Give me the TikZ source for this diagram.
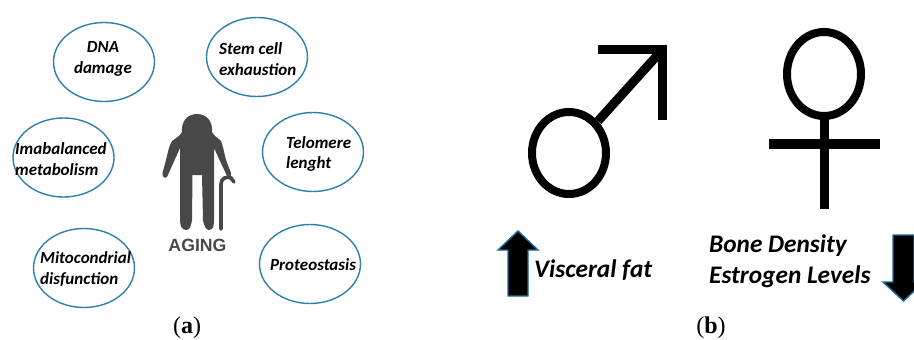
\documentclass[tikz,border=0pt]{standalone}
\usepackage{fontspec}
\setmainfont{Carlito}
\newfontfamily\agingfont{Liberation Sans}
\newfontfamily\capfont{Liberation Serif}
\usetikzlibrary{shapes.geometric}
\definecolor{ringblue}{HTML}{2F7FAB}
\definecolor{arrowblue}{HTML}{1F6A96}
\definecolor{persongrey}{HTML}{484848}
\tikzset{
  ring/.style={draw=ringblue,line width=1.4pt,ellipse,minimum width=101pt,minimum height=79pt,inner sep=0pt,outer sep=0pt},
  ringtext/.style={anchor=west,align=left,inner sep=0pt,font=\fontsize{17}{20.5}\selectfont\bfseries\itshape},
  bigtext/.style={anchor=west,align=left,inner sep=0pt,font=\fontsize{25.3}{31}\selectfont\bfseries\itshape},
  capt/.style={inner sep=0pt,font=\fontsize{24}{26}\selectfont\capfont},
  glyph/.style={draw=black,line width=9pt,line cap=butt},
  bigarrow/.style={fill=black,draw=arrowblue,line width=1.4pt,line join=miter}
}
\begin{document}
\begin{tikzpicture}[x=1pt,y=-1pt]
\useasboundingbox (0,0) rectangle (914,340);
\clip (0,0) rectangle (914,340);
% rings
\node[ring] (dna) at (104,62) {};
\node[ring] (stem) at (257,57) {};
\node[ring] (imb) at (63.5,157.5) {};
\node[ring] (tel) at (313,152) {};
\node[ring] (mito) at (84,268) {};
\node[ring] (prot) at (310,264) {};
\node[ringtext,align=center,anchor=center] (dnat) at (103,59) {DNA\\damage};
\node[ringtext] (stemt) at (219,59) {Stem cell\\exhaustion};
\node[ringtext] (imbt) at (15,159) {Imabalanced\\metabolism};
\node[ringtext] (telt) at (286,154) {Telomere\\lenght};
\node[ringtext] (mitot) at (40,269) {Mitocondrial\\disfunction};
\node[ringtext] (prott) at (270,265) {Proteostasis};
% person
\fill[persongrey] (197,114) .. controls (187,114) and (181,122) .. (182,132)
  .. controls (180,136) and (176,138) .. (172,141)
  .. controls (169,146) and (168,152) .. (166,160)
  -- (162.5,173) .. controls (162,177) and (165,179) .. (167,177)
  -- (180,148) -- (180,220)
  .. controls (180,226) and (182,230) .. (186,230)
  .. controls (190,230) and (191,226) .. (192,220)
  -- (192.5,175) -- (202,175) -- (203,220)
  .. controls (204,226) and (206,230) .. (209,230)
  .. controls (213,230) and (214,226) .. (214,220)
  -- (214,148) -- (227,176)
  .. controls (229,179) and (232,176) .. (231,173)
  -- (226,160) .. controls (224,152) and (223,146) .. (221,141)
  .. controls (218,138) and (214,136) .. (212,132)
  .. controls (213,122) and (207,114) .. (197,114) -- cycle;
\draw[persongrey,line width=3.6pt,line cap=round] (221,229) -- (221,184)
  .. controls (221,178) and (227,176) .. (231,178) -- (234,182);
\node[inner sep=0pt,font=\fontsize{17.7}{20}\selectfont\agingfont\bfseries,text=persongrey] (aging) at (197.5,245) {AGING};
\node[capt] (capa) at (187,328) {(\textbf{a})};
\node[capt] (capb) at (711,328) {(\textbf{b})};
% male symbol
\node[draw=black,line width=8pt,ellipse,minimum width=74pt,minimum height=82pt,inner sep=0pt,outer sep=0pt,anchor=center] (male) at (569,153) {};
\coordinate (maletip) at (663,49);
\draw[glyph] (598,121) -- (maletip);
\draw[glyph] (598,49) -- (667,49);
\draw[glyph] (662.5,44.5) -- (662.5,120);
% female symbol
\node[draw=black,line width=8pt,ellipse,minimum width=74pt,minimum height=84pt,inner sep=0pt,outer sep=0pt] (female) at (824,74) {};
\draw[glyph] (female.south) -- (824,209);
\draw[glyph,line width=10pt] (769,144) -- (880,144);
% arrows
\draw[bigarrow] (518,231) -- (538,250) -- (528,250) -- (528,296) -- (508,296) -- (508,250) -- (498,250) -- cycle;
\draw[bigarrow] (903.5,301) -- (924,282) -- (914,282) -- (914,235) -- (893,235) -- (893,282) -- (883,282) -- cycle;
\node[bigtext] (visc) at (534,270) {Visceral fat};
\node[bigtext] (bone) at (709,261) {Bone Density\\Estrogen Levels};
\end{tikzpicture}
\end{document}
